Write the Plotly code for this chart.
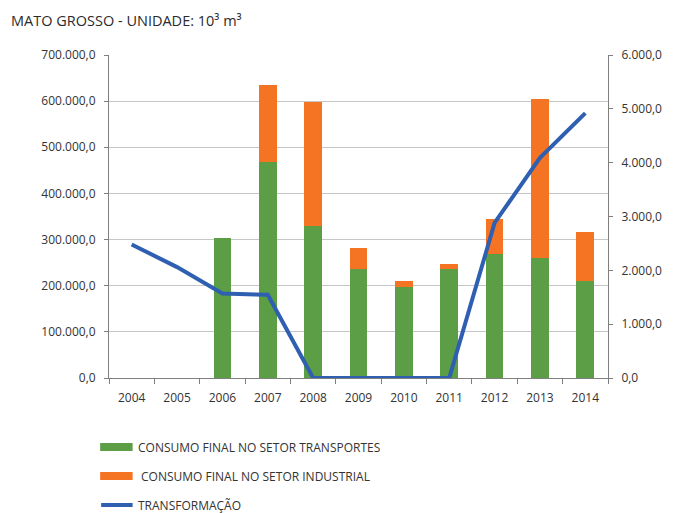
import plotly.graph_objects as go

# Mato Grosso — unidades em 10³ m³
years = ["2004", "2005", "2006", "2007", "2008", "2009", "2010", "2011", "2012", "2013", "2014"]
transportes = [None, None, 304000, 468500, 329500, 235500, 198000, 235500, 268500, 260000, 210500]
industrial = [None, None, 0, 167500, 268500, 45500, 12500, 11500, 75500, 344000, 105500]
transformacao = [2480, 2060, 1570, 1545, 0, 0, 0, 0, 2880, 4090, 4920]

left_ticks = [0, 100000, 200000, 300000, 400000, 500000, 600000, 700000]
right_ticks = [0, 1000, 2000, 3000, 4000, 5000, 6000]

GREEN = "#5b9e45"
ORANGE = "#f47423"
BLUE = "#2e5fb0"
FONT = "Open Sans"
TXT = "#333333"

W, H = 674, 513
L, R, T, B = 109, 616, 55, 378


def px(x):
    return (x - L) / (R - L)


def py(y):
    return (B - y) / (B - T)


fig = go.Figure()
fig.add_trace(go.Bar(x=years, y=transportes, name="CONSUMO FINAL NO SETOR TRANSPORTES",
                     marker=dict(color=GREEN, line=dict(width=0)), yaxis="y"))
fig.add_trace(go.Bar(x=years, y=industrial, name="CONSUMO FINAL NO SETOR INDUSTRIAL",
                     marker=dict(color=ORANGE, line=dict(width=0)), yaxis="y"))
fig.add_trace(go.Scatter(x=years, y=transformacao, name="TRANSFORMAÇÃO", mode="lines",
                         line=dict(color=BLUE, width=4), yaxis="y2"))

# legend drawn below the plot
legend_items = [
    ("bar", GREEN, "CONSUMO FINAL NO SETOR TRANSPORTES", 447, 136),
    ("bar", ORANGE, "CONSUMO FINAL NO SETOR INDUSTRIAL", 476, 139),
    ("line", BLUE, "TRANSFORMAÇÃO", 505, 136),
]
shapes = []
annotations = []
for kind, color, label, yc, xt in legend_items:
    if kind == "bar":
        shapes.append(dict(type="rect", xref="paper", yref="paper",
                           x0=px(100), x1=px(133), y0=py(yc + 4), y1=py(yc - 4),
                           fillcolor=color, line=dict(width=0)))
    else:
        shapes.append(dict(type="line", xref="paper", yref="paper",
                           x0=px(101), x1=px(133), y0=py(yc), y1=py(yc),
                           line=dict(color=color, width=4)))
    annotations.append(dict(text=label, xref="paper", yref="paper", x=px(xt), y=py(yc),
                            xanchor="left", yanchor="middle", showarrow=False,
                            font=dict(family=FONT, size=12, color=TXT)))

annotations.append(dict(text="MATO GROSSO - UNIDADE: 10³ m³", xref="paper", yref="paper",
                        x=px(7), y=py(21), xanchor="left", yanchor="middle", showarrow=False,
                        font=dict(family=FONT, size=14.5, color="#2b2b2b")))

fig.update_layout(
    width=W, height=H,
    margin=dict(l=L, r=W - R, t=T, b=H - B),
    paper_bgcolor="white", plot_bgcolor="white",
    barmode="stack", bargap=0.61,
    showlegend=False,
    separators=",.",
    font=dict(family=FONT, size=12, color=TXT),
    xaxis=dict(type="category", showline=True, linecolor="#7f7f7f", linewidth=1,
               ticks="outside", tickson="boundaries", ticklen=5, tickcolor="#7f7f7f",
               showgrid=False, tickfont=dict(family=FONT, size=12, color=TXT),
               ticklabelstandoff=9),
    yaxis=dict(range=[0, 700000], tickvals=left_ticks, tickformat=",.1f",
               showline=True, linecolor="#7f7f7f", linewidth=1,
               ticks="outside", ticklen=4, tickcolor="#7f7f7f",
               showgrid=True, gridcolor="#c6c6c6", gridwidth=1, zeroline=False,
               tickfont=dict(family=FONT, size=12, color=TXT), ticklabelstandoff=6),
    yaxis2=dict(range=[0, 6000], tickvals=right_ticks, tickformat=",.1f",
                overlaying="y", side="right",
                showline=True, linecolor="#7f7f7f", linewidth=1,
                ticks="outside", ticklen=4, tickcolor="#7f7f7f",
                showgrid=False, zeroline=False,
                tickfont=dict(family=FONT, size=12, color=TXT), ticklabelstandoff=6),
    shapes=shapes,
    annotations=annotations,
)

fig.write_html("out.html")
